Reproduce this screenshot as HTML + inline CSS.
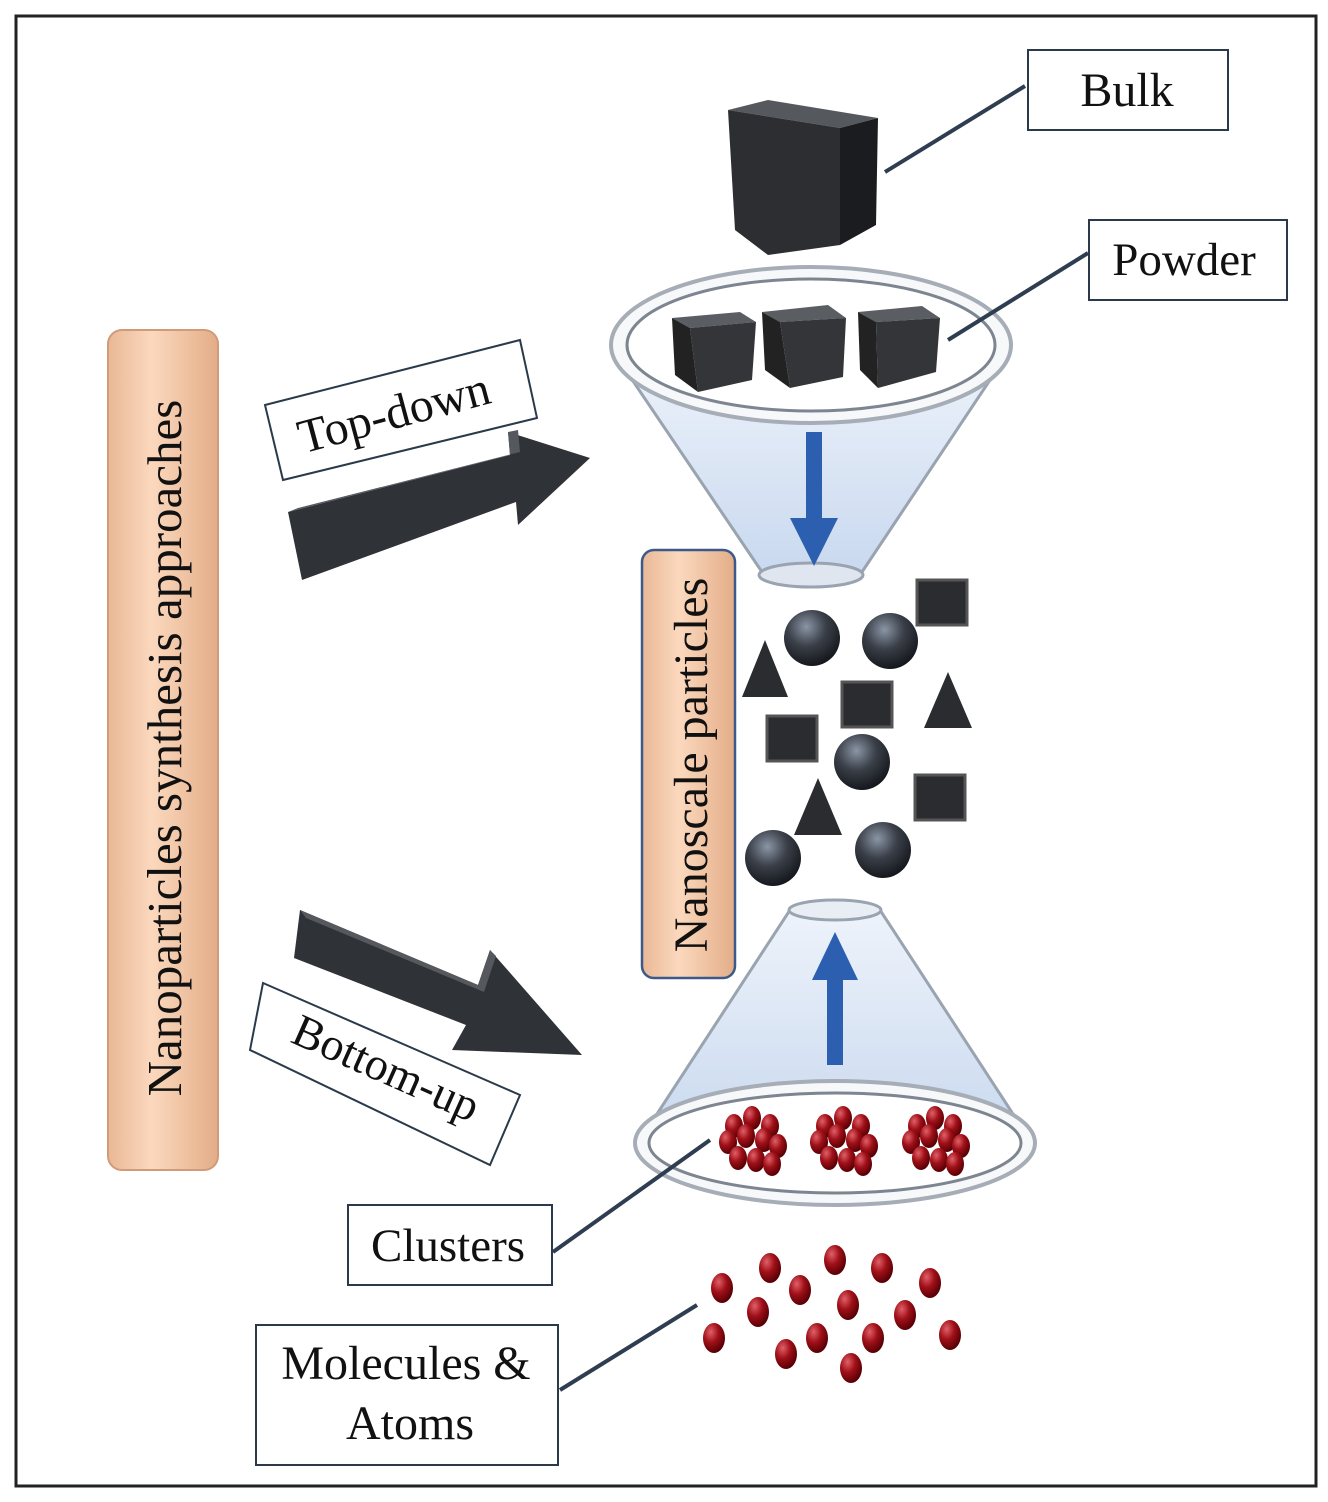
<!DOCTYPE html>
<html><head><meta charset="utf-8"><style>
html,body{margin:0;padding:0;background:#fff}
svg{display:block}
text{font-family:"Liberation Serif",serif;fill:#111}
</style></head><body>
<svg width="1328" height="1502" viewBox="0 0 1328 1502" xmlns="http://www.w3.org/2000/svg">
<defs>
<linearGradient id="peach" x1="0" x2="1" y1="0" y2="0">
<stop offset="0" stop-color="#e9b896"/><stop offset="0.4" stop-color="#fbd8bd"/><stop offset="1" stop-color="#e3ad88"/>
</linearGradient>
<radialGradient id="sph" cx="0.4" cy="0.3" r="0.7">
<stop offset="0" stop-color="#8a95a5"/><stop offset="0.5" stop-color="#3a3f48"/><stop offset="1" stop-color="#15181d"/>
</radialGradient>
<radialGradient id="red" cx="0.35" cy="0.3" r="0.7">
<stop offset="0" stop-color="#e0606a"/><stop offset="0.5" stop-color="#a01018"/><stop offset="1" stop-color="#5a0005"/>
</radialGradient>
<linearGradient id="glass" x1="0" x2="0" y1="0" y2="1">
<stop offset="0" stop-color="#eef3fb"/><stop offset="1" stop-color="#c9d9ef"/>
</linearGradient>
</defs>
<rect x="0" y="0" width="1328" height="1502" fill="#fff"/>
<rect x="16" y="16" width="1300" height="1470" fill="none" stroke="#222" stroke-width="3"/>

<rect x="108" y="330" width="110" height="840" rx="14" fill="url(#peach)" stroke="#d19a78" stroke-width="2"/>
<text transform="translate(181,748) rotate(-90)" text-anchor="middle" font-size="49">Nanoparticles synthesis approaches</text>

<rect x="1028" y="50" width="200" height="80" fill="#fff" stroke="#2a3a4a" stroke-width="2"/>
<text x="1127" y="106" text-anchor="middle" font-size="48">Bulk</text>
<line x1="1025" y1="86" x2="885" y2="172" stroke="#2e3e50" stroke-width="4"/>
<polygon points="728,110 768,100 878,118 840,128" fill="#55585d"/>
<polygon points="728,110 840,128 840,245 768,255 735,230" fill="#2c2e32"/>
<polygon points="840,128 878,118 876,225 840,245" fill="#1b1c1f"/>

<rect x="1089" y="220" width="198" height="80" fill="#fff" stroke="#2a3a4a" stroke-width="2"/>
<text x="1184" y="275" text-anchor="middle" font-size="47">Powder</text>

<polygon points="612,350 1010,350 862,572 762,572" fill="url(#glass)" stroke="#9aa4b0" stroke-width="3"/>
<ellipse cx="811" cy="575" rx="52" ry="12" fill="#dfe6f0" stroke="#9aa4b0" stroke-width="3"/>
<ellipse cx="811" cy="345" rx="200" ry="78" fill="#f7f8fa" stroke="#a6adb6" stroke-width="4"/>
<ellipse cx="811" cy="345" rx="184" ry="66" fill="#fff" stroke="#7d8590" stroke-width="3"/>
<g>
<polygon points="672,318 740,312 756,322 690,328" fill="#5a5d62"/>
<polygon points="672,318 690,328 698,392 675,375" fill="#222"/>
<polygon points="690,328 756,322 752,380 698,392" fill="#333539"/>
<polygon points="762,312 828,305 846,318 780,322" fill="#5a5d62"/>
<polygon points="762,312 780,322 790,388 765,370" fill="#222"/>
<polygon points="780,322 846,318 843,377 790,388" fill="#333539"/>
<polygon points="858,312 922,306 940,318 876,322" fill="#5a5d62"/>
<polygon points="858,312 876,322 878,388 860,370" fill="#222"/>
<polygon points="876,322 940,318 936,372 878,388" fill="#333539"/>
</g>
<line x1="1088" y1="253" x2="948" y2="340" stroke="#2e3e50" stroke-width="4"/>
<rect x="806" y="432" width="16" height="90" fill="#2d5fb0"/>
<polygon points="790,518 838,518 814,566" fill="#2d5fb0"/>

<polygon points="265,405 520,340 537,418 283,480" fill="#fff" stroke="#2a3a4a" stroke-width="2"/>
<text transform="translate(398,428) rotate(-15)" text-anchor="middle" font-size="48">Top-down</text>
<polygon points="288,512 510,455 508,432 590,458 518,525 516,502 302,580" fill="#2f3237"/>
<polygon points="288,512 510,455 508,432 518,430 520,452 298,508" fill="#55585d"/>

<rect x="642" y="550" width="93" height="428" rx="12" fill="url(#peach)" stroke="#3b5a8a" stroke-width="2.5"/>
<text transform="translate(707,765) rotate(-90)" text-anchor="middle" font-size="48">Nanoscale particles</text>

<circle cx="812" cy="638" r="28" fill="url(#sph)"/>
<circle cx="890" cy="641" r="28" fill="url(#sph)"/>
<circle cx="862" cy="762" r="28" fill="url(#sph)"/>
<circle cx="773" cy="858" r="28" fill="url(#sph)"/>
<circle cx="883" cy="850" r="28" fill="url(#sph)"/>
<g fill="#2a2c30" stroke="#555" stroke-width="3">
<rect x="917" y="580" width="50" height="45"/>
<rect x="842" y="682" width="50" height="45"/>
<rect x="767" y="716" width="50" height="45"/>
<rect x="915" y="775" width="50" height="45"/>
</g>
<g fill="#2a2c30">
<polygon points="765,640 788,697 742,697"/>
<polygon points="948,672 972,728 924,728"/>
<polygon points="818,778 842,835 794,835"/>
</g>

<polygon points="790,910 880,910 1030,1140 640,1140" fill="url(#glass)" stroke="#9aa4b0" stroke-width="3"/>
<ellipse cx="835" cy="910" rx="46" ry="10" fill="#e9eef5" stroke="#9aa4b0" stroke-width="3"/>
<ellipse cx="835" cy="1143" rx="200" ry="62" fill="#f7f8fa" stroke="#a6adb6" stroke-width="4"/>
<ellipse cx="835" cy="1143" rx="186" ry="50" fill="#fff" stroke="#7d8590" stroke-width="3"/>
<rect x="827" y="975" width="16" height="90" fill="#2d5fb0"/>
<polygon points="812,980 858,980 835,932" fill="#2d5fb0"/>

<g fill="url(#red)">
<g transform="translate(752,1140)">
<ellipse cx="-18" cy="-14" rx="9" ry="12"/><ellipse cx="0" cy="-22" rx="9" ry="12"/><ellipse cx="18" cy="-14" rx="9" ry="12"/>
<ellipse cx="-24" cy="2" rx="9" ry="12"/><ellipse cx="-6" cy="-4" rx="9" ry="12"/><ellipse cx="12" cy="0" rx="9" ry="12"/><ellipse cx="26" cy="6" rx="9" ry="12"/>
<ellipse cx="-14" cy="18" rx="9" ry="12"/><ellipse cx="4" cy="20" rx="9" ry="12"/><ellipse cx="20" cy="24" rx="9" ry="12"/>
</g>
<g transform="translate(843,1140)">
<ellipse cx="-18" cy="-14" rx="9" ry="12"/><ellipse cx="0" cy="-22" rx="9" ry="12"/><ellipse cx="18" cy="-14" rx="9" ry="12"/>
<ellipse cx="-24" cy="2" rx="9" ry="12"/><ellipse cx="-6" cy="-4" rx="9" ry="12"/><ellipse cx="12" cy="0" rx="9" ry="12"/><ellipse cx="26" cy="6" rx="9" ry="12"/>
<ellipse cx="-14" cy="18" rx="9" ry="12"/><ellipse cx="4" cy="20" rx="9" ry="12"/><ellipse cx="20" cy="24" rx="9" ry="12"/>
</g>
<g transform="translate(935,1140)">
<ellipse cx="-18" cy="-14" rx="9" ry="12"/><ellipse cx="0" cy="-22" rx="9" ry="12"/><ellipse cx="18" cy="-14" rx="9" ry="12"/>
<ellipse cx="-24" cy="2" rx="9" ry="12"/><ellipse cx="-6" cy="-4" rx="9" ry="12"/><ellipse cx="12" cy="0" rx="9" ry="12"/><ellipse cx="26" cy="6" rx="9" ry="12"/>
<ellipse cx="-14" cy="18" rx="9" ry="12"/><ellipse cx="4" cy="20" rx="9" ry="12"/><ellipse cx="20" cy="24" rx="9" ry="12"/>
</g>
<ellipse cx="722" cy="1288" rx="11" ry="15"/><ellipse cx="770" cy="1268" rx="11" ry="15"/><ellipse cx="835" cy="1260" rx="11" ry="15"/>
<ellipse cx="882" cy="1268" rx="11" ry="15"/><ellipse cx="930" cy="1283" rx="11" ry="15"/><ellipse cx="800" cy="1290" rx="11" ry="15"/>
<ellipse cx="758" cy="1312" rx="11" ry="15"/><ellipse cx="848" cy="1305" rx="11" ry="15"/><ellipse cx="905" cy="1315" rx="11" ry="15"/>
<ellipse cx="714" cy="1338" rx="11" ry="15"/><ellipse cx="817" cy="1338" rx="11" ry="15"/><ellipse cx="873" cy="1338" rx="11" ry="15"/>
<ellipse cx="950" cy="1335" rx="11" ry="15"/><ellipse cx="786" cy="1354" rx="11" ry="15"/><ellipse cx="851" cy="1368" rx="11" ry="15"/>
</g>

<polygon points="300,910 478,985 490,950 582,1055 452,1050 466,1025 294,958" fill="#2f3237"/>
<polygon points="300,910 478,985 490,950 496,956 484,992 306,918" fill="#55585d"/>
<polygon points="263,983 520,1095 490,1165 250,1050" fill="#fff" stroke="#2a3a4a" stroke-width="2"/>
<text transform="translate(380,1082) rotate(24)" text-anchor="middle" font-size="46">Bottom-up</text>

<rect x="348" y="1205" width="204" height="80" fill="#fff" stroke="#2a3a4a" stroke-width="2"/>
<text x="448" y="1261" text-anchor="middle" font-size="47">Clusters</text>
<line x1="553" y1="1252" x2="710" y2="1140" stroke="#2e3e50" stroke-width="4"/>

<rect x="256" y="1325" width="302" height="140" fill="#fff" stroke="#2a3a4a" stroke-width="2"/>
<text x="406" y="1379" text-anchor="middle" font-size="48">Molecules &amp;</text>
<text x="410" y="1439" text-anchor="middle" font-size="48">Atoms</text>
<line x1="560" y1="1390" x2="697" y2="1305" stroke="#2e3e50" stroke-width="4"/>
</svg>
</body></html>
